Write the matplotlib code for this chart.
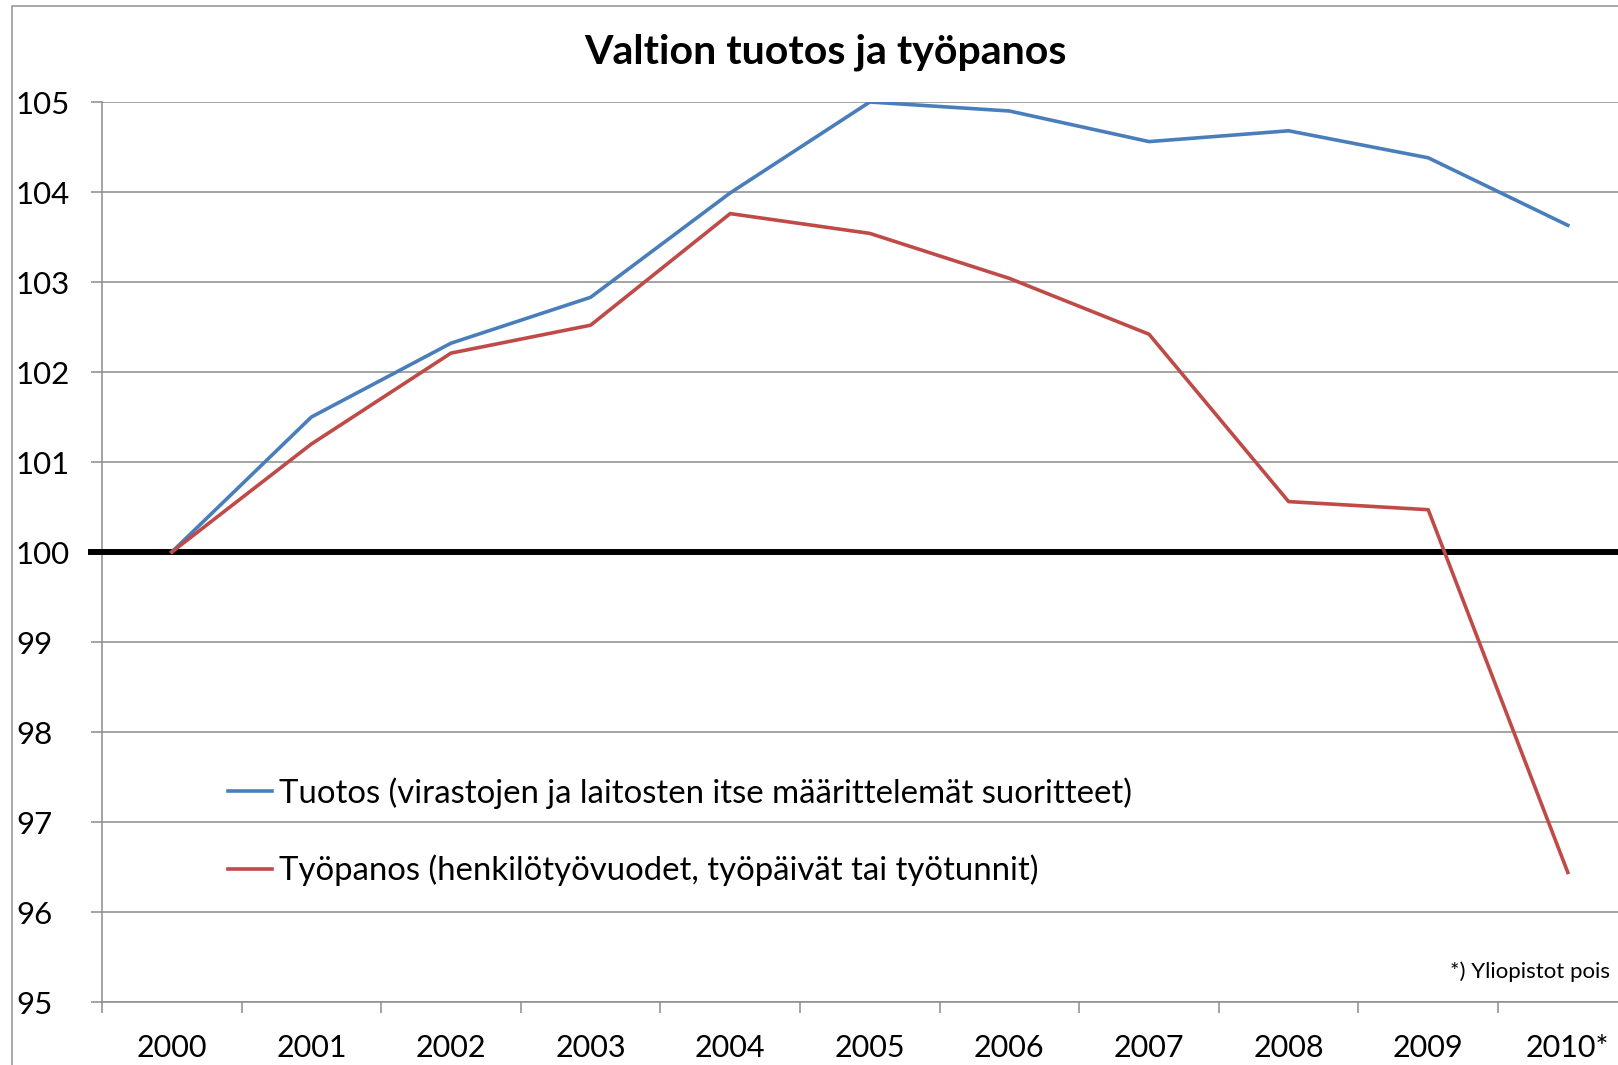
import matplotlib
matplotlib.use("Agg")
import matplotlib.pyplot as plt
import matplotlib.transforms as mtransforms
from matplotlib.patches import Rectangle

plt.rcParams["font.family"] = ["Lato", "DejaVu Sans"]

years = ["2000", "2001", "2002", "2003", "2004", "2005",
         "2006", "2007", "2008", "2009", "2010*"]
tuotos = [100.0, 101.50, 102.32, 102.83, 103.99, 105.0,
          104.90, 104.56, 104.68, 104.38, 103.63]
tyopanos = [100.0, 101.20, 102.21, 102.52, 103.76, 103.54,
            103.04, 102.42, 100.56, 100.47, 96.44]
y_ticks = [95, 96, 97, 98, 99, 100, 101, 102, 103, 104, 105]

label_tuotos = "Tuotos (virastojen ja laitosten itse määrittelemät suoritteet)"
label_tyopanos = "Työpanos (henkilötyövuodet, työpäivät tai työtunnit)"

W, H = 1618, 1065
fig = plt.figure(figsize=(W / 100, H / 100), dpi=100)

# axes area in pixels: left spine at x=102, y=105 at 102px, y=95 at 1002px
ax = fig.add_axes([102 / W, 1 - 1002 / H, 1 - 102 / W, 900 / H])

# outer chart border (cut off at right / bottom like the source image)
fig.patches.append(Rectangle((12 / W, -0.05), 1.2, 1 - 6 / H + 0.05,
                             transform=fig.transFigure, fill=False,
                             edgecolor="#9a9a9a", linewidth=1.2, zorder=0))

x = list(range(len(years)))
ax.plot(x, tuotos, color="#4A7EBB", linewidth=2.6, label=label_tuotos,
        solid_joinstyle="round", zorder=4)
ax.plot(x, tyopanos, color="#BE4B48", linewidth=2.6, label=label_tyopanos,
        solid_joinstyle="round", zorder=4)

# thick reference line at 100, starting where the y ticks start
trans = mtransforms.blended_transform_factory(ax.transAxes, ax.transData)
ax.plot([-11 / (W - 102), 1], [100, 100], color="black", linewidth=4.3,
        transform=trans, clip_on=False, zorder=3)

ax.set_yticks(y_ticks)
ax.set_yticklabels([str(v) for v in y_ticks])
ax.yaxis.grid(True, color="#8c8c8c", linewidth=1.1)
ax.set_axisbelow(True)

ax.set_xticks(x)
ax.set_xticklabels(years)
ax.set_xticks([i + 0.5 for i in range(-1, len(years))], minor=True)

# limits after the ticks, the chart is cut off at the right edge
ax.set_ylim(95, 105)
ax.set_xlim(-0.5, -0.5 + (W - 102) / 139.6)

ax.tick_params(axis="y", which="major", direction="out", length=8,
               width=1.1, color="#8c8c8c", labelsize=22.5, pad=54,
               labelcolor="black")
for lab in ax.get_yticklabels():
    lab.set_horizontalalignment("left")
ax.tick_params(axis="x", which="major", length=0, labelsize=22, pad=23)
ax.tick_params(axis="x", which="minor", direction="out", length=8,
               width=1.1, color="#8c8c8c")

for side in ["top", "right"]:
    ax.spines[side].set_visible(False)
for side in ["left", "bottom"]:
    ax.spines[side].set_color("#8c8c8c")
    ax.spines[side].set_linewidth(1.1)

fig.text(825 / W, 1 - 52 / H, "Valtion tuotos ja työpanos",
         ha="center", va="center", fontsize=29.5, fontweight="bold")

ax.legend(loc="upper left", bbox_to_anchor=(228 / W, 1 - 777 / H),
          bbox_transform=fig.transFigure, frameon=False, fontsize=23.7,
          handlelength=1.35, handletextpad=0.2, borderpad=0,
          borderaxespad=0, labelspacing=1.4)

fig.text(1610 / W, 1 - 972 / H, "*) Yliopistot pois", ha="right",
         va="center", fontsize=16)

fig.savefig("out.png", dpi=100, facecolor="white")
